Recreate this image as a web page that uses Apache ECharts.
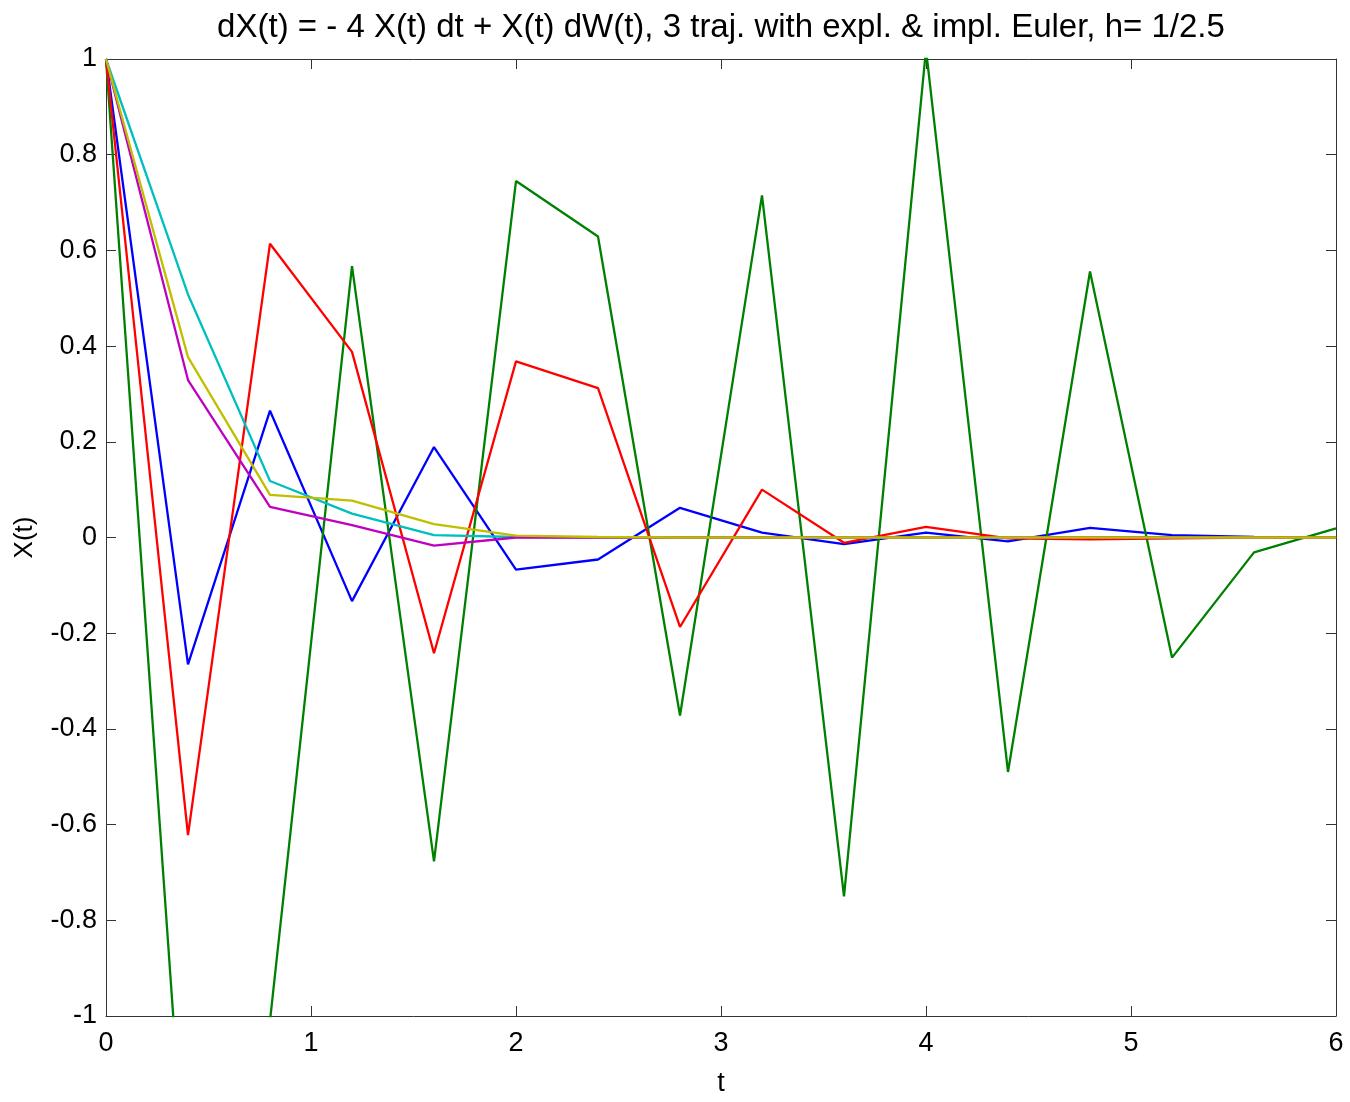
<!DOCTYPE html>
<html>
<head>
<meta charset="utf-8">
<script src="https://cdn.jsdelivr.net/npm/echarts@6/dist/echarts.min.js"></script>
<style>
  html, body { margin: 0; padding: 0; background: #fff; }
  #chart { width: 1350px; height: 1102px; }
</style>
</head>
<body>
<div id="chart"></div>
<script>
// time grid, h = 1/2.5
const tValues = [0, 0.4, 0.8, 1.2, 1.6, 2.0, 2.4, 2.8, 3.2, 3.6, 4.0, 4.4, 4.8, 5.2, 5.6, 6.0];

// explicit Euler trajectories
const explBlue  = [1, -0.265, 0.265, -0.133, 0.189, -0.067, -0.046, 0.062, 0.010, -0.014, 0.010, -0.008, 0.020, 0.005, 0.001, 0.000];
const explGreen = [1, -1.44, -1.01, 0.567, -0.677, 0.745, 0.629, -0.372, 0.715, -0.750, 1.02, -0.490, 0.556, -0.251, -0.031, 0.019];
const explRed   = [1, -0.622, 0.614, 0.388, -0.242, 0.368, 0.312, -0.187, 0.100, -0.011, 0.022, -0.002, -0.004, -0.002, 0.000, 0.000];

// implicit Euler trajectories
const implCyan    = [1, 0.508, 0.118, 0.050, 0.005, 0.001, 0, 0, 0, 0, 0, 0, 0, 0, 0, 0];
const implMagenta = [1, 0.329, 0.064, 0.026, -0.017, 0.000, 0, 0, 0, 0, 0, 0, 0, 0, 0, 0];
const implYellow  = [1, 0.377, 0.089, 0.077, 0.028, 0.004, 0.001, 0, 0, 0, 0, 0, 0, 0, 0, 0];

const xTicks = [0, 1, 2, 3, 4, 5, 6];
const yTicks = [-1, -0.8, -0.6, -0.4, -0.2, 0, 0.2, 0.4, 0.6, 0.8, 1];

const titleText = 'dX(t) = - 4 X(t) dt + X(t) dW(t), 3 traj. with expl. & impl. Euler, h= 1/2.5';

const seriesDefs = [
  { name: 'expl 1', data: explBlue,    color: '#0000ff' },
  { name: 'expl 2', data: explGreen,   color: '#008000' },
  { name: 'expl 3', data: explRed,     color: '#ff0000' },
  { name: 'impl 1', data: implCyan,    color: '#00bfbf' },
  { name: 'impl 2', data: implMagenta, color: '#bf00bf' },
  { name: 'impl 3', data: implYellow,  color: '#bfbf00' }
];

const FONT = '"Liberation Sans", Arial, sans-serif';
const AX = '#333333';

const chart = echarts.init(document.getElementById('chart'), null, { renderer: 'canvas' });

const baseX = {
  type: 'value', min: xTicks[0], max: xTicks[xTicks.length - 1], interval: 1,
  axisLine: { show: true, onZero: false, lineStyle: { color: AX, width: 1 } },
  axisTick: { show: true, inside: true, length: 10, lineStyle: { color: AX } },
  splitLine: { show: false }
};
const baseY = {
  type: 'value', min: yTicks[0], max: yTicks[yTicks.length - 1], interval: 0.2,
  axisLine: { show: true, onZero: false, lineStyle: { color: AX, width: 1 } },
  axisTick: { show: true, inside: true, length: 10, lineStyle: { color: AX } },
  splitLine: { show: false }
};

chart.setOption({
  animation: false,
  backgroundColor: '#ffffff',
  title: {
    text: titleText,
    left: 716,
    textAlign: 'center',
    top: 6,
    textStyle: { fontFamily: FONT, fontSize: 33, fontWeight: 'normal', color: '#000' }
  },
  grid: { left: 106, right: 14, top: 59, bottom: 76, containLabel: false },
  xAxis: [
    Object.assign({}, baseX, {
      position: 'bottom',
      name: 't', nameLocation: 'middle', nameGap: 54,
      nameTextStyle: { fontFamily: FONT, fontSize: 27, color: '#000' },
      axisLabel: { show: true, margin: 14, fontFamily: FONT, fontSize: 27, color: '#000',
                   formatter: v => String(Math.round(v * 10) / 10) }
    }),
    Object.assign({}, baseX, { position: 'top', axisLabel: { show: false } })
  ],
  yAxis: [
    Object.assign({}, baseY, {
      position: 'left',
      name: 'X(t)', nameLocation: 'middle', nameGap: 68,
      nameTextStyle: { fontFamily: FONT, fontSize: 26, color: '#000' },
      axisLabel: { show: true, margin: 9, fontFamily: FONT, fontSize: 27, color: '#000',
                   formatter: v => String(Math.round(v * 10) / 10) }
    }),
    Object.assign({}, baseY, { position: 'right', axisLabel: { show: false } })
  ],
  series: seriesDefs.map(s => ({
    name: s.name,
    type: 'line',
    xAxisIndex: 0,
    yAxisIndex: 0,
    data: tValues.map((t, i) => [t, s.data[i]]),
    showSymbol: false,
    symbol: 'none',
    clip: true,
    lineStyle: { color: s.color, width: 2.3 },
    itemStyle: { color: s.color },
    emphasis: { disabled: true }
  }))
});
</script>
</body>
</html>
